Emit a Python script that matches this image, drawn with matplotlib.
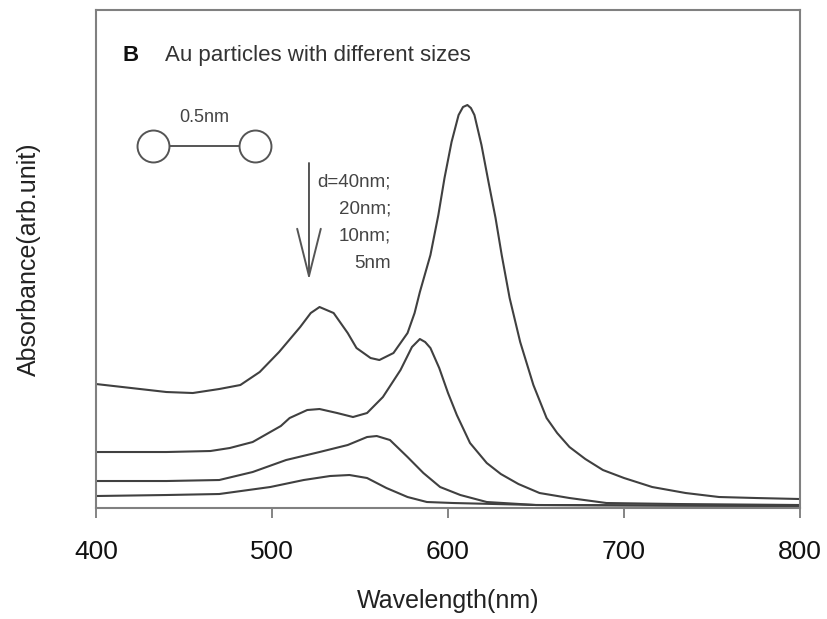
#!/usr/bin/env python3
import matplotlib
matplotlib.use('Agg')
import matplotlib.pyplot as plt

plt.rcParams['font.family'] = ['Liberation Sans', 'DejaVu Sans']

# wavelength (nm) / absorbance (arb.)
wl_40 = [400, 420, 440, 455, 470, 482, 493, 504, 516, 522, 527, 535, 543, 548, 556, 561, 569,
         577, 581, 584, 590, 594.5, 598, 602, 606, 608.5, 611, 613, 615, 619, 623, 627, 630.5,
         635, 641, 648.5, 656, 662, 669, 678, 688, 700, 716, 735, 754, 775, 800]
abs_40 = [124, 120, 116, 115, 119, 123, 136, 156, 181, 195, 201, 195, 175, 160, 150, 148, 155,
          175, 195, 216, 253, 293, 330, 366, 393, 401, 403, 400, 393, 363, 326, 290, 253,
          210, 166, 123, 90, 75, 61, 49, 38, 30, 21, 15, 11, 10, 9]

wl_20 = [400, 440, 465, 476, 489, 500, 505, 510, 520, 527, 537, 546, 554, 563, 573, 579.5, 584,
         587, 590, 595, 600, 605, 612.5, 622, 630, 640, 652, 669, 690, 730, 800]
abs_20 = [56, 56, 57, 60, 66, 77, 82, 90, 98, 99, 95, 91, 95, 111, 138, 161, 169,
          166, 160, 140, 115, 93, 65, 45, 34, 24, 15, 10, 5, 4, 3]

wl_10 = [400, 440, 470, 489, 508, 527, 543, 554, 559.5, 567, 577, 586, 595.5, 607, 622, 650, 800]
abs_10 = [27, 27, 28, 36, 48, 56, 63, 71, 72, 68, 51, 35, 21, 13, 6, 3, 2]

wl_5 = [400, 440, 470, 499, 518, 533, 544, 554, 565, 577, 588, 603, 650, 800]
abs_5 = [12, 13, 14, 21, 28, 32, 33, 30, 20, 11, 6, 5, 3, 2]

sizes = ['d=40nm;', '20nm;', '10nm;', '5nm']
xticks = [400, 500, 600, 700, 800]

fig = plt.figure(figsize=(8.27, 6.19), dpi=100)
ax = fig.add_axes([0.1161, 0.1793, 0.8513, 0.8045])

for x, y in [(wl_40, abs_40), (wl_20, abs_20), (wl_10, abs_10), (wl_5, abs_5)]:
    ax.plot(x, y, color='#404040', lw=1.5, solid_joinstyle='round')

ax.set_xlim(400, 800)
ax.set_ylim(0, 498)
ax.set_xticks(xticks)
ax.set_yticks([])
ax.tick_params(axis='x', direction='out', length=7, width=1.2, color='#707070',
               labelsize=19, pad=16, labelcolor='#111111')
for s in ax.spines.values():
    s.set_color('#808080')
    s.set_linewidth(1.5)

ax.set_xlabel('Wavelength(nm)', fontsize=18, labelpad=18, color='#222222')
ax.set_ylabel('Absorbance(arb.unit)', fontsize=18, labelpad=40, color='#222222')

# panel title
ax.text(414.8, 453, 'B', fontsize=16, fontweight='bold', va='center', color='#111111')
ax.text(439, 453, 'Au particles with different sizes', fontsize=16, va='center', color='#333333')

# dimer sketch
ax.plot([432.4, 490.4], [362, 362], color='#555555', lw=1.4, zorder=3)
ax.plot([432.4, 490.4], [362, 362], ls='none', marker='o', ms=23, mfc='white',
        mec='#555555', mew=1.4, zorder=4)
ax.text(461.4, 391, '0.5nm', fontsize=13, ha='center', va='center', color='#444444')

# size arrow
ax.annotate('', xy=(521, 228), xytext=(521, 345),
            arrowprops=dict(arrowstyle='->, head_length=3.4, head_width=0.85',
                            color='#555555', lw=1.4, shrinkA=0, shrinkB=0))
for i, lab in enumerate(sizes):
    ax.text(567.6, 326 - i * 27, lab, fontsize=13.5, ha='right', va='center', color='#444444')

fig.savefig('out.png', dpi=100)
